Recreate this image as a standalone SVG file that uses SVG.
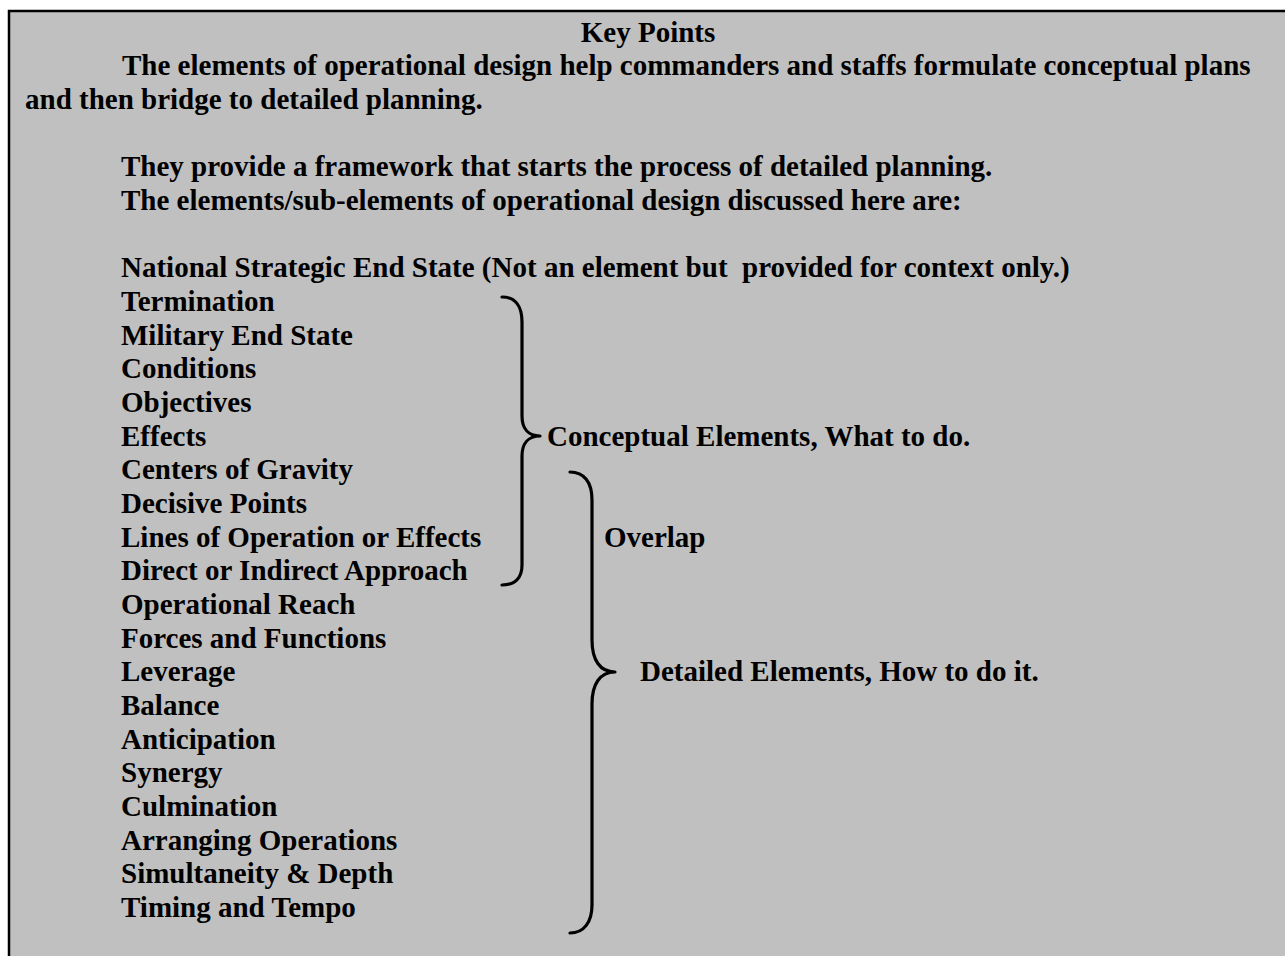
<svg xmlns="http://www.w3.org/2000/svg" width="1285" height="956" viewBox="0 0 1285 956">
  <style>
    text { font-family: "Liberation Serif", "Times New Roman", serif; font-weight: bold; font-size: 29px; fill: #000; white-space: pre; }
    .brace { fill: none; stroke: #000; stroke-width: 3.2; stroke-linecap: round; stroke-linejoin: round; }
  </style>
  <rect width="1285" height="956" fill="#ffffff"/>
  <!-- panel -->
  <rect id="panel" x="9" y="11" width="1290" height="960" fill="#c0c0c0" stroke="#000" stroke-width="2.5"/>

  <g id="intro">
    <text x="648" y="42" text-anchor="middle">Key Points</text>
    <text x="122" y="75">The elements of operational design help commanders and staffs formulate conceptual plans</text>
    <text x="25" y="109">and then bridge to detailed planning.</text>
    <text x="121" y="176">They provide a framework that starts the process of detailed planning.</text>
    <text x="121" y="210">The elements/sub-elements of operational design discussed here are:</text>
  </g>

  <g id="element-list">
    <text x="121" y="277" xml:space="preserve">National Strategic End State (Not an element but  provided for context only.)</text>
    <text x="121" y="311">Termination</text>
    <text x="121" y="345">Military End State</text>
    <text x="121" y="378">Conditions</text>
    <text x="121" y="412">Objectives</text>
    <text x="121" y="446">Effects</text>
    <text x="121" y="479">Centers of Gravity</text>
    <text x="121" y="513">Decisive Points</text>
    <text x="121" y="547">Lines of Operation or Effects</text>
    <text x="121" y="580">Direct or Indirect Approach</text>
    <text x="121" y="614">Operational Reach</text>
    <text x="121" y="648">Forces and Functions</text>
    <text x="121" y="681">Leverage</text>
    <text x="121" y="715">Balance</text>
    <text x="121" y="749">Anticipation</text>
    <text x="121" y="782">Synergy</text>
    <text x="121" y="816">Culmination</text>
    <text x="121" y="850">Arranging Operations</text>
    <text x="121" y="883">Simultaneity &amp; Depth</text>
    <text x="121" y="917">Timing and Tempo</text>
  </g>

  <g id="connectors">
    <!-- conceptual brace -->
    <path class="brace" d="M502,297 C515,297 522,306 522,322 L522,416 C522,428 528,436 540,436 C528,436 522,444 522,456 L522,565 C522,578 515,585 502,585"/>
    <!-- detailed brace -->
    <path class="brace" d="M570,472 C584,472 592,482 592,500 L592,640 C592,660 600,672 615,672 C600,672 592,684 592,704 L592,905 C592,922 584,933 570,933"/>
  </g>

  <g id="labels">
    <text x="547" y="446">Conceptual Elements, What to do.</text>
    <text x="604" y="547">Overlap</text>
    <text x="640" y="681">Detailed Elements, How to do it.</text>
  </g>
</svg>
